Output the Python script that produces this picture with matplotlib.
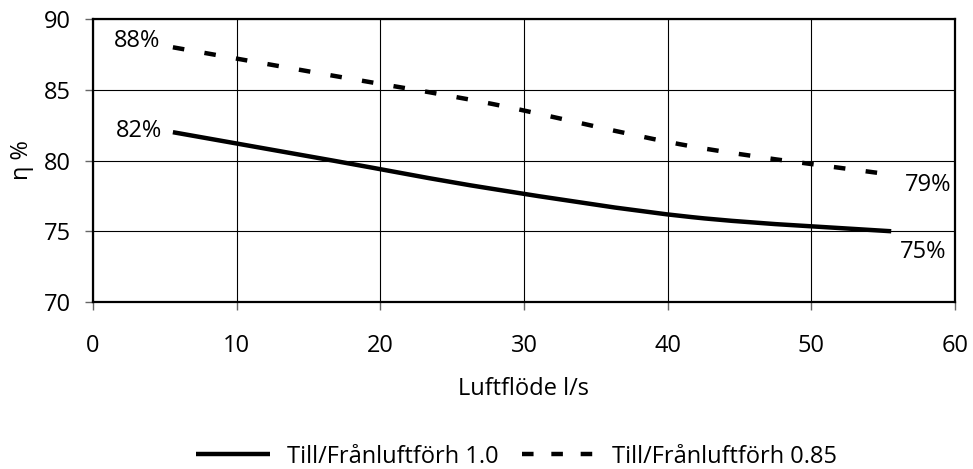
import numpy as np
import matplotlib
matplotlib.use("Agg")
import matplotlib.pyplot as plt
from matplotlib.path import Path
from matplotlib.patches import PathPatch
from matplotlib.lines import Line2D

# data
flow = [5.56, 16.67, 27.78, 41.67, 55.56]
eta_10 = [82, 80, 78, 76, 75]
eta_085 = [88, 86, 84, 81, 79]
series_names = ["Till/Frånluftförh 1.0", "Till/Frånluftförh 0.85"]

plt.rcParams['font.family'] = ['Open Sans', 'DejaVu Sans']
plt.rcParams['font.size'] = 17

DASH = (2.6, 4.6)
LW = 3.2


def smooth_path(xs, ys):
    # Excel style smoothed line: cubic bezier through the data points
    pts = np.column_stack([xs, ys]).astype(float)
    ext = np.vstack([pts[0], pts, pts[-1]])
    verts = [pts[0]]
    codes = [Path.MOVETO]
    for i in range(len(pts) - 1):
        p0, p1, p2, p3 = ext[i], ext[i + 1], ext[i + 2], ext[i + 3]
        verts += [p1 + (p2 - p0) / 6, p2 - (p3 - p1) / 6, p2]
        codes += [Path.CURVE4] * 3
    return Path(verts, codes)


fig = plt.figure(figsize=(9.73, 4.69), dpi=100)
ax = fig.add_axes([93 / 973, 1 - 302 / 469, 862 / 973, 283 / 469])

ax.add_patch(PathPatch(smooth_path(flow, eta_10), fill=False, edgecolor="black",
                       linewidth=LW, capstyle="butt", zorder=3))
ax.add_patch(PathPatch(smooth_path(flow, eta_085), fill=False, edgecolor="black",
                       linewidth=LW, linestyle=(0, DASH), capstyle="butt", zorder=3))

ax.set_xlim(0, 60)
ax.set_ylim(70, 90)
ax.set_xticks(range(0, 61, 10))
ax.set_yticks(range(70, 91, 5))
ax.grid(True, color="black", linewidth=0.8)
ax.set_axisbelow(True)
for s in ax.spines.values():
    s.set_linewidth(1.6)
ax.tick_params(direction="out", length=5.8, width=1, color="#666666", labelsize=17)
ax.tick_params(axis="x", pad=17)
ax.tick_params(axis="y", pad=10)

ax.set_xlabel("Luftflöde l/s", labelpad=14)
ax.set_ylabel("η %", labelpad=7)

# end point annotations (offsets in pixels from the data point)
def label(x, y, dx, dy, ha):
    ax.annotate("%d%%" % y, xy=(x, y), xytext=(dx, dy), textcoords="offset pixels",
                ha=ha, va="baseline", fontsize=17)

label(flow[0], eta_085[0], -13, 0, "right")
label(flow[0], eta_10[0], -11, -5, "right")
label(flow[-1], eta_085[-1], 14, -16, "left")
label(flow[-1], eta_10[-1], 9, -27, "left")

handles = [Line2D([], [], color="black", linewidth=LW, solid_capstyle="butt"),
           Line2D([], [], color="black", linewidth=LW, dashes=(2.6, 4.0), dash_capstyle="butt")]
fig.legend(handles, series_names, loc="center", bbox_to_anchor=(0.531, 1 - 456.5 / 469),
           ncol=2, frameon=False, handlelength=3.1, handletextpad=0.72,
           columnspacing=1.0, fontsize=17, borderaxespad=0, borderpad=0)

fig.savefig("out.png", dpi=100)
